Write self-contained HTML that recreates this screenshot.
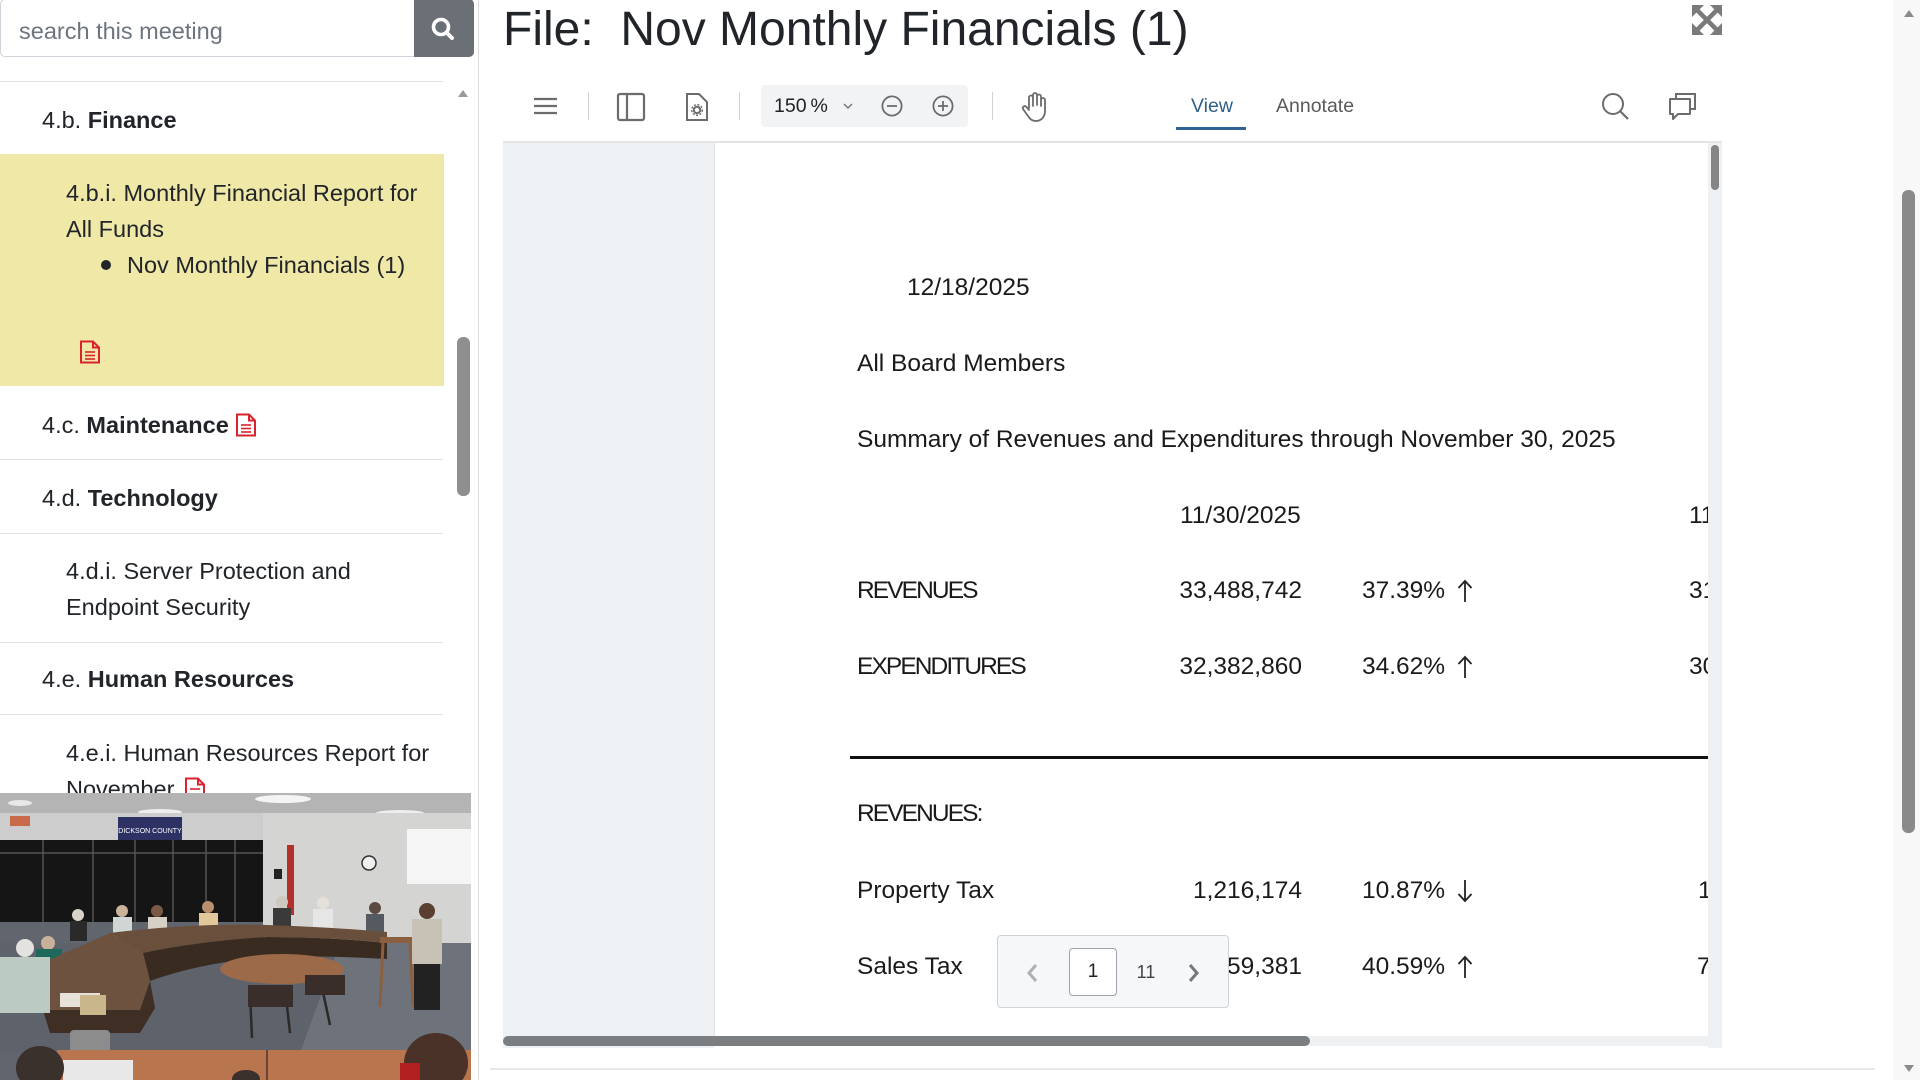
<!DOCTYPE html>
<html><head><meta charset="utf-8">
<style>
*{margin:0;padding:0;box-sizing:border-box}
html,body{width:1920px;height:1080px;overflow:hidden;background:#fff;font-family:"Liberation Sans",Arial,sans-serif;color:#212529;position:relative}
.a{position:absolute;white-space:nowrap}
.sb{font-size:23.5px;line-height:36px;color:#212529}
.doc{font-size:24.5px;line-height:30px;color:#1a1a1a}
.num{text-align:right;width:160px}
.caps{letter-spacing:-1.9px}
.hr{position:absolute;left:0;width:443px;height:1px;background:#dfe2e5}
</style></head><body>

<!-- ============ LEFT SIDEBAR ============ -->
<div class="a" style="left:0;top:-1px;width:416px;height:58px;border:1px solid #ced4da;border-right:none;border-radius:5px 0 0 5px;background:#fff"></div>
<div class="a" style="left:19px;top:13px;font-size:23.5px;line-height:36px;color:#6c757d">search this meeting</div>
<div class="a" style="left:414px;top:-1px;width:60px;height:58px;background:#6a7076;border-radius:0 5px 5px 0"></div>
<svg class="a" style="left:428px;top:14px" width="30" height="30" viewBox="0 0 30 30"><circle cx="13" cy="13" r="7.5" fill="none" stroke="#fff" stroke-width="3.6"/><line x1="18.5" y1="18.5" x2="24" y2="24" stroke="#fff" stroke-width="4" stroke-linecap="round"/></svg>

<div class="hr" style="top:81px"></div>

<!-- sidebar scrollbar -->
<svg class="a" style="left:457px;top:89px" width="12" height="10"><polygon points="6,1 11,8 1,8" fill="#9a9a9a"/></svg>
<div class="a" style="left:457px;top:337px;width:13px;height:159px;background:#8f8f8f;border-radius:6px"></div>
<div class="a" style="left:478px;top:0;width:1px;height:1080px;background:#dcdcdc"></div>

<!-- items -->
<div class="a sb" style="left:42px;top:102px">4.b. <b>Finance</b></div>

<div class="a" style="left:0;top:154px;width:444px;height:232px;background:#f0e8a7"></div>
<div class="a sb" style="left:66px;top:175px">4.b.i. Monthly Financial Report for</div>
<div class="a sb" style="left:66px;top:211px">All Funds</div>
<div class="a" style="left:101px;top:260px;width:10px;height:10px;border-radius:50%;background:#212529"></div>
<div class="a sb" style="left:127px;top:247px">Nov Monthly Financials (1)</div>
<svg class="a" style="left:79px;top:340px" width="22" height="24" viewBox="0 0 22 24"><path d="M2 1.5 H14 L20 7.5 V22.5 H2 Z" fill="none" stroke="#d9232e" stroke-width="2"/><path d="M14 1.5 V7.5 H20" fill="none" stroke="#d9232e" stroke-width="2"/><line x1="6" y1="12" x2="16" y2="12" stroke="#d9232e" stroke-width="1.6"/><line x1="6" y1="15.5" x2="16" y2="15.5" stroke="#d9232e" stroke-width="1.6"/><line x1="6" y1="19" x2="16" y2="19" stroke="#d9232e" stroke-width="1.6"/></svg>

<div class="a sb" style="left:42px;top:407px">4.c. <b>Maintenance</b></div>
<svg class="a" style="left:235px;top:413px" width="22" height="24" viewBox="0 0 22 24"><path d="M2 1.5 H14 L20 7.5 V22.5 H2 Z" fill="none" stroke="#d9232e" stroke-width="2"/><path d="M14 1.5 V7.5 H20" fill="none" stroke="#d9232e" stroke-width="2"/><line x1="6" y1="12" x2="16" y2="12" stroke="#d9232e" stroke-width="1.6"/><line x1="6" y1="15.5" x2="16" y2="15.5" stroke="#d9232e" stroke-width="1.6"/><line x1="6" y1="19" x2="16" y2="19" stroke="#d9232e" stroke-width="1.6"/></svg>
<div class="hr" style="top:459px"></div>

<div class="a sb" style="left:42px;top:480px">4.d. <b>Technology</b></div>
<div class="hr" style="top:533px"></div>

<div class="a sb" style="left:66px;top:553px">4.d.i. Server Protection and</div>
<div class="a sb" style="left:66px;top:589px">Endpoint Security</div>
<div class="hr" style="top:642px"></div>

<div class="a sb" style="left:42px;top:661px">4.e. <b>Human Resources</b></div>
<div class="hr" style="top:714px"></div>

<div class="a sb" style="left:66px;top:735px">4.e.i. Human Resources Report for</div>
<div class="a sb" style="left:66px;top:771px">November</div>
<svg class="a" style="left:184px;top:777px" width="22" height="24" viewBox="0 0 22 24"><path d="M2 1.5 H14 L20 7.5 V22.5 H2 Z" fill="none" stroke="#d9232e" stroke-width="2"/><path d="M14 1.5 V7.5 H20" fill="none" stroke="#d9232e" stroke-width="2"/><line x1="6" y1="12" x2="16" y2="12" stroke="#d9232e" stroke-width="1.6"/></svg>

<!-- video -->
<svg class="a" style="left:0;top:793px;z-index:5" width="471" height="287" viewBox="0 0 471 287">
<rect width="471" height="287" fill="#61656d"/>
<rect x="0" y="0" width="471" height="22" fill="#b4b4b4"/>
<ellipse cx="283" cy="6" rx="28" ry="4" fill="#f4f4f4"/>
<ellipse cx="160" cy="19" rx="22" ry="3" fill="#eeeeee"/>
<ellipse cx="400" cy="20" rx="24" ry="3" fill="#eeeeee"/>
<ellipse cx="20" cy="10" rx="12" ry="3" fill="#e8e8e8"/>
<rect x="0" y="20" width="263" height="28" fill="#cdcdcd"/>
<rect x="10" y="23" width="20" height="10" fill="#c86a4a"/>
<rect x="118" y="24" width="64" height="23" fill="#2d3163"/>
<text x="150" y="40" font-size="7" fill="#fff" text-anchor="middle" font-family="Liberation Sans, sans-serif">DICKSON COUNTY</text>
<rect x="0" y="47" width="263" height="82" fill="#151515"/>
<g stroke="#555" stroke-width="1.5"><line x1="43" y1="47" x2="43" y2="129"/><line x1="93" y1="47" x2="93" y2="129"/><line x1="135" y1="47" x2="135" y2="129"/><line x1="173" y1="47" x2="173" y2="129"/><line x1="206" y1="47" x2="206" y2="129"/><line x1="235" y1="47" x2="235" y2="129"/><line x1="0" y1="60" x2="263" y2="60"/></g>
<rect x="263" y="20" width="208" height="150" fill="#d4d4d2"/>
<rect x="407" y="36" width="64" height="55" fill="#f5f5f5"/>
<circle cx="369" cy="70" r="7" fill="#f0f0f0" stroke="#333" stroke-width="1.5"/>
<rect x="287" y="52" width="7" height="70" fill="#b5302a"/>
<rect x="274" y="76" width="8" height="10" fill="#222"/>
<rect x="0" y="150" width="471" height="110" fill="#5e626a"/>
<polygon points="340,150 471,150 471,260 300,260" fill="#6e727b"/>
<!-- back people -->
<g>
<circle cx="78" cy="122" r="6" fill="#d8d2c8"/><rect x="70" y="128" width="17" height="20" fill="#2a2a2a"/>
<circle cx="122" cy="118" r="6" fill="#c9b49a"/><rect x="113" y="124" width="19" height="20" fill="#cfd6d4"/>
<circle cx="157" cy="118" r="6" fill="#7a5a44"/><rect x="148" y="124" width="19" height="18" fill="#d6d0c6"/>
<circle cx="208" cy="114" r="6" fill="#b89070"/><rect x="199" y="120" width="19" height="18" fill="#e2c79a"/>
<circle cx="282" cy="109" r="6" fill="#cfc8be"/><rect x="273" y="115" width="18" height="20" fill="#3a3a3a"/>
<circle cx="323" cy="110" r="6" fill="#e4e0da"/><rect x="313" y="116" width="20" height="20" fill="#e6e6e6"/>
<circle cx="375" cy="115" r="6" fill="#5a4a40"/><rect x="366" y="121" width="18" height="20" fill="#555a60"/>
<circle cx="48" cy="150" r="7" fill="#c8b09a"/><rect x="36" y="156" width="26" height="26" fill="#1d6a5c"/>
</g>
<!-- back table -->
<path d="M110 140 Q190 130 267 132 Q330 134 387 139 L387 150 Q330 144 267 144 Q200 148 143 160 Z" fill="#6a503c"/>
<path d="M143 160 Q200 148 267 144 Q330 144 387 150 L387 166 Q320 162 267 164 Q200 170 150 188 Z" fill="#3a2b21"/>
<!-- left arm of table -->
<path d="M110 140 L143 160 L150 188 L140 217 L43 217 L33 174 Z" fill="#6d533f"/>
<path d="M43 217 L140 217 L150 188 L155 215 L140 240 L50 240 Z" fill="#3e2e23"/>
<rect x="60" y="200" width="40" height="14" fill="#e6e2da"/>
<rect x="80" y="202" width="26" height="20" fill="#c9b68a"/>
<!-- center tables -->
<ellipse cx="282" cy="176" rx="62" ry="15" fill="#9c6a48"/>
<g stroke="#2a2a2a" stroke-width="2.5" fill="none"><path d="M250 200 L252 245 M285 195 L290 240 M320 185 L330 232"/></g>
<rect x="248" y="192" width="45" height="22" fill="#3a2e2a"/>
<rect x="305" y="182" width="40" height="20" fill="#3a2e2a"/>
<!-- left man -->
<circle cx="25" cy="155" r="9" fill="#e4e2de"/>
<rect x="0" y="164" width="50" height="56" fill="#bccac4"/>
<!-- trash can -->
<rect x="70" y="237" width="40" height="26" rx="4" fill="#8c8c8c"/>
<!-- podium & speaker -->
<rect x="380" y="144" width="33" height="6" fill="#8a6040"/>
<g stroke="#8a6040" stroke-width="3"><line x1="383" y1="150" x2="380" y2="214"/><line x1="410" y1="150" x2="413" y2="214"/></g>
<circle cx="427" cy="118" r="8" fill="#5a3e30"/>
<rect x="412" y="126" width="30" height="45" fill="#c8c2b6"/>
<rect x="414" y="171" width="26" height="46" fill="#222"/>
<!-- foreground desk -->
<rect x="57" y="257" width="414" height="30" fill="#b8754e"/>
<line x1="267" y1="257" x2="267" y2="287" stroke="#6a4430" stroke-width="2"/>
<rect x="63" y="267" width="70" height="20" fill="#e8e8e8"/>
<ellipse cx="40" cy="275" rx="24" ry="22" fill="#3a302c"/>
<ellipse cx="246" cy="286" rx="14" ry="9" fill="#3a302c"/>
<ellipse cx="436" cy="270" rx="32" ry="30" fill="#4a3228"/>
<rect x="400" y="270" width="20" height="17" fill="#b02020"/>
</svg>

<!-- ============ MAIN ============ -->
<div class="a" style="left:503px;top:0;font-size:48px;line-height:60px;color:#212529">File:&nbsp; Nov Monthly Financials (1)</div>

<!-- expand icon -->
<svg class="a" style="left:1691px;top:4px" width="32" height="32" viewBox="0 0 32 32">
<g fill="#7a7a7a"><polygon points="1,1 13,1 1,13"/><polygon points="31,1 19,1 31,13"/><polygon points="1,31 13,31 1,19"/><polygon points="31,31 19,31 31,19"/></g>
<g stroke="#7a7a7a" stroke-width="4.5"><line x1="5" y1="5" x2="27" y2="27"/><line x1="27" y1="5" x2="5" y2="27"/></g></svg>

<!-- toolbar -->
<svg class="a" style="left:530px;top:92px" width="32" height="30"><g stroke="#6c6c6c" stroke-width="2.2"><line x1="4" y1="7" x2="27" y2="7"/><line x1="4" y1="14" x2="27" y2="14"/><line x1="4" y1="21" x2="27" y2="21"/></g></svg>
<div class="a" style="left:588px;top:92px;width:1px;height:28px;background:#d2d2d2"></div>
<svg class="a" style="left:616px;top:92px" width="30" height="30"><rect x="2" y="2" width="26" height="26" rx="2" fill="none" stroke="#6c6c6c" stroke-width="2.2"/><line x1="11" y1="2" x2="11" y2="28" stroke="#6c6c6c" stroke-width="2.2"/></svg>
<svg class="a" style="left:684px;top:92px" width="26" height="30"><path d="M3 2 H15 L23 10 V28 H3 Z" fill="none" stroke="#6c6c6c" stroke-width="2"/><circle cx="13" cy="18" r="3.2" fill="none" stroke="#6c6c6c" stroke-width="2"/><circle cx="13" cy="18" r="5.3" fill="none" stroke="#6c6c6c" stroke-width="1.4" stroke-dasharray="2 1.6"/></svg>
<div class="a" style="left:739px;top:92px;width:1px;height:28px;background:#d2d2d2"></div>
<div class="a" style="left:761px;top:85px;width:207px;height:42px;background:#f1f3f5;border-radius:4px"></div>
<div class="a" style="left:774px;top:94px;font-size:19.5px;line-height:24px;color:#222">150&#8201;%</div>
<svg class="a" style="left:842px;top:101px" width="12" height="10"><polyline points="2,3 6,7 10,3" fill="none" stroke="#777" stroke-width="1.5"/></svg>
<svg class="a" style="left:880px;top:94px" width="24" height="24"><circle cx="12" cy="12" r="9.6" fill="none" stroke="#6c6c6c" stroke-width="1.8"/><line x1="7" y1="12" x2="17" y2="12" stroke="#6c6c6c" stroke-width="1.8"/></svg>
<svg class="a" style="left:931px;top:94px" width="24" height="24"><circle cx="12" cy="12" r="9.6" fill="none" stroke="#6c6c6c" stroke-width="1.8"/><line x1="7" y1="12" x2="17" y2="12" stroke="#6c6c6c" stroke-width="1.8"/><line x1="12" y1="7" x2="12" y2="17" stroke="#6c6c6c" stroke-width="1.8"/></svg>
<div class="a" style="left:992px;top:92px;width:1px;height:28px;background:#d2d2d2"></div>
<svg class="a" style="left:1020px;top:91px" width="30" height="32" viewBox="0 0 30 32"><path d="M9 17 V6.5 a2 2 0 0 1 4 0 V15 M13 14 V4 a2 2 0 0 1 4 0 V14 M17 14 V5.5 a2 2 0 0 1 4 0 V15 M21 15 V9 a2 2 0 0 1 4 0 V20 c0 6 -4 10 -9 10 c-4 0 -6 -2 -8 -5 L3 18 a2 2 0 0 1 3 -2.5 L9 19" fill="none" stroke="#6c6c6c" stroke-width="1.8" stroke-linejoin="round" stroke-linecap="round"/></svg>

<div class="a" style="left:1191px;top:94px;font-size:19.5px;line-height:24px;color:#2e5f88">View</div>
<div class="a" style="left:1176px;top:127px;width:70px;height:3px;background:#2f6394"></div>
<div class="a" style="left:1276px;top:94px;font-size:19.5px;line-height:24px;color:#5a5a5a">Annotate</div>

<svg class="a" style="left:1600px;top:91px" width="32" height="32"><circle cx="13" cy="13" r="10" fill="none" stroke="#6c6c6c" stroke-width="2"/><line x1="20.5" y1="20.5" x2="28" y2="28" stroke="#6c6c6c" stroke-width="2.2"/></svg>
<svg class="a" style="left:1667px;top:91px" width="32" height="32"><path d="M9 7 V3 H28 V18 H24" fill="none" stroke="#6c6c6c" stroke-width="2"/><path d="M3 8 H23 V23 H11 L6 28 V23 H3 Z" fill="none" stroke="#6c6c6c" stroke-width="2" stroke-linejoin="round"/></svg>

<!-- viewer -->
<div class="a" style="left:503px;top:141px;width:1219px;height:2px;background:#e4e4e4"></div>
<div class="a" style="left:503px;top:143px;width:211px;height:905px;background:#eef1f4"></div>
<div class="a" style="left:714px;top:143px;width:994px;height:893px;background:#fff;border-left:1px solid #dde1e5"></div>
<div class="a" style="left:1708px;top:143px;width:14px;height:905px;background:#eef1f4"></div>
<div class="a" style="left:1711px;top:145px;width:8px;height:45px;background:#858585;border-radius:4px"></div>

<!-- page content -->
<div class="a" style="left:0;top:0;width:1708px;height:1036px;overflow:hidden">
<div class="a doc" style="left:907px;top:273px">12/18/2025</div>
<div class="a doc" style="left:857px;top:349px">All Board Members</div>
<div class="a doc" style="left:857px;top:425px">Summary of Revenues and Expenditures through November 30, 2025</div>
<div class="a doc" style="left:1180px;top:501px">11/30/2025</div>
<div class="a doc" style="left:1689px;top:501px">11/30/2024</div>

<div class="a doc caps" style="left:857px;top:576px">REVENUES</div>
<div class="a doc num" style="left:1142px;top:576px">33,488,742</div>
<div class="a doc" style="left:1362px;top:576px">37.39%</div>
<svg class="a" style="left:1457px;top:579px" width="16" height="24"><line x1="8" y1="2" x2="8" y2="23" stroke="#222" stroke-width="1.8"/><polyline points="1.5,9 8,2 14.5,9" fill="none" stroke="#222" stroke-width="1.8"/></svg>
<div class="a doc" style="left:1689px;top:576px">31,000,000</div>

<div class="a doc caps" style="left:857px;top:652px">EXPENDITURES</div>
<div class="a doc num" style="left:1142px;top:652px">32,382,860</div>
<div class="a doc" style="left:1362px;top:652px">34.62%</div>
<svg class="a" style="left:1457px;top:655px" width="16" height="24"><line x1="8" y1="2" x2="8" y2="23" stroke="#222" stroke-width="1.8"/><polyline points="1.5,9 8,2 14.5,9" fill="none" stroke="#222" stroke-width="1.8"/></svg>
<div class="a doc" style="left:1689px;top:652px">30,000,000</div>

<div class="a" style="left:850px;top:756px;width:858px;height:3px;background:#111"></div>

<div class="a doc caps" style="left:857px;top:799px">REVENUES:</div>

<div class="a doc" style="left:857px;top:876px">Property Tax</div>
<div class="a doc num" style="left:1142px;top:876px">1,216,174</div>
<div class="a doc" style="left:1362px;top:876px">10.87%</div>
<svg class="a" style="left:1457px;top:879px" width="16" height="24"><line x1="8" y1="1" x2="8" y2="22" stroke="#222" stroke-width="1.8"/><polyline points="1.5,15 8,22 14.5,15" fill="none" stroke="#222" stroke-width="1.8"/></svg>
<div class="a doc" style="left:1698px;top:876px">1</div>

<div class="a doc" style="left:857px;top:952px">Sales Tax</div>
<div class="a doc num" style="left:1142px;top:952px">7,759,381</div>
<div class="a doc" style="left:1362px;top:952px">40.59%</div>
<svg class="a" style="left:1457px;top:955px" width="16" height="24"><line x1="8" y1="2" x2="8" y2="23" stroke="#222" stroke-width="1.8"/><polyline points="1.5,9 8,2 14.5,9" fill="none" stroke="#222" stroke-width="1.8"/></svg>
<div class="a doc" style="left:1697px;top:952px">7</div>
</div>

<!-- pager -->
<div class="a" style="left:997px;top:935px;width:232px;height:73px;background:#f6f7f8;border:1px solid #cfd3d6;border-radius:4px"></div>
<svg class="a" style="left:1025px;top:962px" width="16" height="22"><polyline points="11,3 4,11 11,19" fill="none" stroke="#b0b0b0" stroke-width="3"/></svg>
<div class="a" style="left:1069px;top:948px;width:48px;height:48px;background:#fff;border:1px solid #9ea4a9;border-radius:4px;font-size:19px;line-height:46px;text-align:center;color:#222">1</div>
<div class="a" style="left:1126px;top:960px;width:40px;text-align:center;font-size:18px;line-height:24px;color:#444">11</div>
<svg class="a" style="left:1185px;top:962px" width="16" height="22"><polyline points="5,3 12,11 5,19" fill="none" stroke="#777" stroke-width="3"/></svg>

<!-- horizontal scrollbar -->
<div class="a" style="left:503px;top:1036px;width:1205px;height:10px;background:#eef0f2"></div>
<div class="a" style="left:503px;top:1036px;width:807px;height:10px;background:#7b7e80;border-radius:5px"></div>
<div class="a" style="left:490px;top:1068px;width:1385px;height:2px;background:#e8e8e8"></div>

<!-- page scrollbar -->
<div class="a" style="left:1893px;top:0;width:27px;height:1080px;background:#f8f8f8"></div>
<svg class="a" style="left:1903px;top:9px" width="12" height="10"><polygon points="6,1 11,8 1,8" fill="#8a8a8a"/></svg>
<div class="a" style="left:1902px;top:190px;width:13px;height:643px;background:#8a8a8a;border-radius:6px"></div>
<svg class="a" style="left:1903px;top:1063px" width="12" height="10"><polygon points="1,2 11,2 6,9" fill="#8a8a8a"/></svg>

</body></html>
